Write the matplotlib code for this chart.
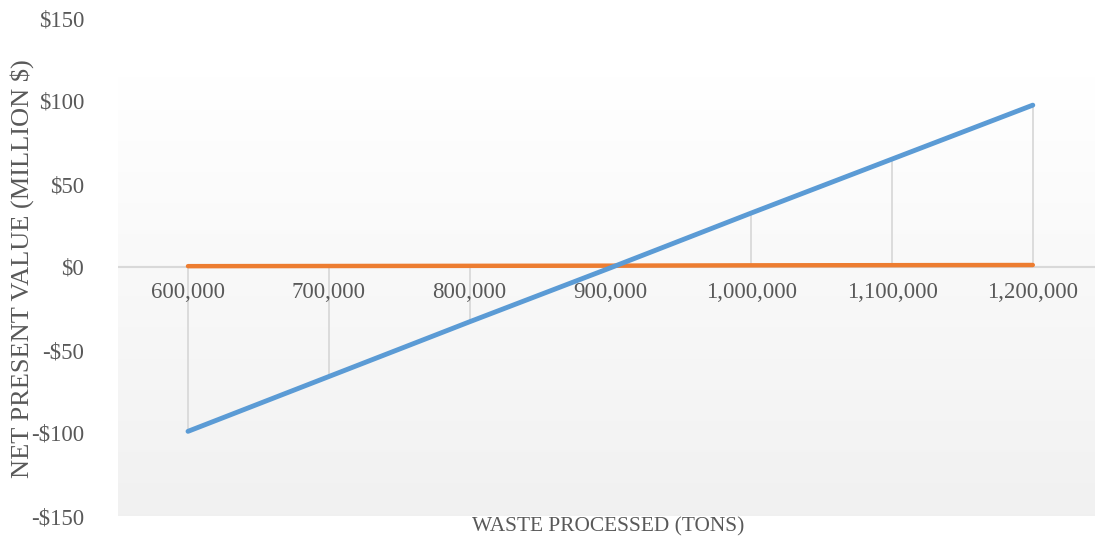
import numpy as np
import matplotlib.pyplot as plt
from matplotlib.ticker import FuncFormatter

# tonnage scenarios and NPV results (million $)
waste_tons = ["600,000", "700,000", "800,000", "900,000", "1,000,000", "1,100,000", "1,200,000"]
npv_blue = [-99, -66, -33, -0.5, 32.5, 65, 97.5]
npv_orange = [0.5, 0.6, 0.7, 0.8, 1.0, 1.1, 1.2]

text_col = "#595959"
plt.rcParams['font.family'] = ['Liberation Serif', 'DejaVu Serif']

fig = plt.figure(figsize=(10.95, 5.44), dpi=100)
# axes spans from the $150 tick down to the -$150 tick
ax = fig.add_axes([117.6 / 1095, (544 - 516) / 544, 1 - 117.6 / 1095, (516 - 18) / 544])

x = np.arange(len(waste_tons))

# soft white-to-grey plot area fill
grad = np.linspace(0, 1, 256).reshape(-1, 1)
grad = np.clip((grad - 0.12) / 0.88, 0, 1)
top = np.array([1.0, 1.0, 1.0])
bot = np.array([0.945, 0.945, 0.945])
img = top + (bot - top) * grad[..., None]
ax.imshow(img, extent=(0, 1, 0, 1), transform=ax.transAxes, aspect='auto', zorder=0)

# drop lines down to the category axis
ax.vlines(x, 0, npv_blue, color="#d9d9d9", lw=1.3, zorder=1)
ax.axhline(0, color="#d9d9d9", lw=1.5, zorder=1)

ax.plot(x, npv_orange, color="#ED7D31", lw=3.2, solid_capstyle='round', zorder=3)
ax.plot(x, npv_blue, color="#5B9BD5", lw=3.5, solid_capstyle='round', zorder=4)

ax.set_xlim(-0.5, -0.5 + (1095 - 117.6) / 140.8)
ax.set_ylim(-150, 150)
ax.set_yticks(np.arange(-150, 151, 50))
ax.yaxis.set_major_formatter(FuncFormatter(lambda v, p: f"${v:.0f}" if v >= 0 else f"-${-v:.0f}"))

for s in ax.spines.values():
    s.set_visible(False)
ax.set_xticks(x)
ax.set_xticklabels(waste_tons)
ax.tick_params(axis='y', length=0, pad=24, labelsize=16.5, labelcolor=text_col)
ax.tick_params(axis='x', length=0, labelsize=16.5, labelcolor=text_col)

# category labels sit just under the zero line
for lbl in ax.get_xticklabels():
    lbl.set_visible(False)
for xi, lab in zip(x, waste_tons):
    ax.annotate(lab, (xi, 0), xytext=(0, -11), textcoords='offset points',
                ha='center', va='top', fontsize=16.5, color=text_col)

ax.set_ylabel("NET PRESENT VALUE (MILLION $)", fontsize=19, color=text_col)
ax.yaxis.set_label_coords(22 / 1095, 1 - 269 / 544, transform=fig.transFigure)
ax.yaxis.label.set_va('center')

ax.set_xlabel("WASTE PROCESSED (TONS)", fontsize=15.4, color=text_col)
ax.xaxis.set_label_coords(608 / 1095, 1 - 527 / 544, transform=fig.transFigure)
ax.xaxis.label.set_va('center')

fig.savefig("out.png", dpi=100)
